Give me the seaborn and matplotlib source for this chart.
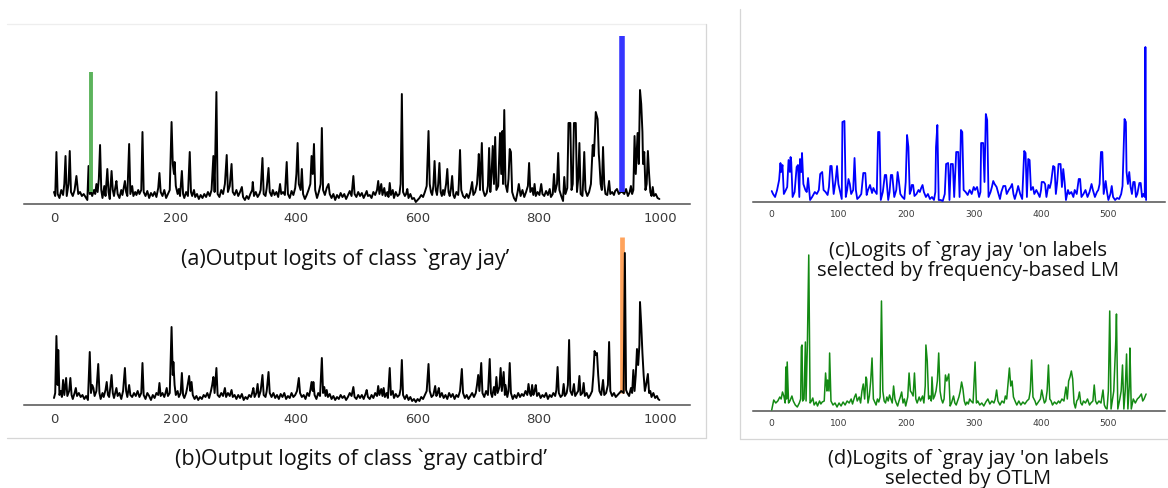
import matplotlib
matplotlib.use("Agg")
import matplotlib.pyplot as plt
from matplotlib.lines import Line2D
import seaborn as sns

# logit traces: (label index, logit height)
trace_a = [(0, 12), (2, 8), (4, 52), (6, 10), (9, 6), (12, 14), (15, 9), (17, 20), (19, 48), (21, 8),
           (24, 20), (26, 53), (28, 12), (31, 8), (34, 14), (37, 28), (40, 10), (43, 12), (46, 8), (49, 10),
           (52, 7), (55, 4), (57, 38), (59, 10), (61, 12), (63, 8), (66, 14), (68, 10), (70, 20), (72, 12),
           (74, 25), (76, 59), (78, 14), (80, 6), (83, 18), (85, 8), (88, 35), (90, 12), (92, 5), (95, 33),
           (97, 14), (99, 8), (101, 16), (103, 23), (105, 10), (108, 6), (111, 14), (113, 9), (115, 16), (117, 23),
           (119, 12), (121, 8), (124, 60), (126, 10), (129, 18), (131, 8), (134, 12), (136, 9), (139, 14), (141, 10),
           (144, 14), (146, 72), (148, 12), (151, 8), (154, 13), (157, 6), (160, 11), (163, 8), (166, 12), (169, 7),
           (172, 16), (174, 31), (176, 12), (179, 8), (182, 14), (185, 6), (188, 10), (191, 14), (194, 82), (196, 40),
           (198, 30), (199, 42), (201, 18), (204, 10), (206, 15), (208, 8), (211, 33), (213, 10), (215, 6), (218, 12),
           (221, 8), (224, 52), (226, 12), (228, 8), (231, 14), (233, 7), (236, 10), (239, 5), (242, 9), (245, 6),
           (248, 10), (251, 7), (254, 12), (257, 8), (260, 14), (263, 48), (265, 12), (268, 112), (270, 10), (273, 7),
           (276, 14), (279, 10), (282, 20), (285, 49), (287, 12), (290, 18), (293, 40), (295, 12), (298, 9), (301, 14),
           (304, 8), (307, 12), (310, 17), (312, 7), (315, 4), (318, 8), (321, 5), (324, 10), (327, 14), (328, 22),
           (330, 8), (333, 12), (336, 7), (339, 10), (341, 14), (344, 46), (346, 10), (349, 8), (351, 16), (354, 36),
           (356, 12), (359, 8), (361, 14), (364, 9), (367, 12), (370, 7), (373, 20), (375, 10), (378, 12), (381, 9),
           (384, 42), (386, 10), (389, 6), (392, 13), (395, 9), (398, 16), (400, 30), (402, 61), (404, 20), (407, 14),
           (409, 35), (411, 10), (414, 5), (417, 9), (420, 14), (423, 20), (425, 48), (427, 30), (429, 60), (431, 14),
           (434, 6), (437, 12), (440, 20), (442, 76), (444, 14), (447, 9), (450, 16), (453, 20), (455, 10), (458, 6),
           (461, 10), (464, 4), (467, 9), (470, 6), (473, 11), (476, 7), (479, 10), (482, 5), (485, 9), (488, 13),
           (491, 8), (494, 28), (496, 10), (499, 7), (502, 12), (505, 8), (508, 11), (511, 6), (514, 10), (516, 13),
           (518, 8), (521, 9), (524, 6), (527, 12), (530, 9), (533, 14), (535, 23), (537, 10), (540, 20), (542, 9),
           (545, 16), (547, 8), (550, 12), (552, 7), (554, 21), (556, 9), (559, 14), (561, 6), (564, 12), (567, 8),
           (570, 10), (572, 20), (574, 110), (576, 12), (579, 8), (581, 10), (583, 15), (585, 6), (588, 10), (591, 5),
           (594, 6), (597, 2), (600, 4), (603, 6), (606, 9), (609, 7), (612, 12), (615, 18), (618, 73), (620, 20),
           (622, 12), (624, 9), (626, 18), (628, 43), (630, 14), (632, 9), (634, 20), (636, 41), (638, 12), (640, 8),
           (642, 14), (644, 9), (647, 20), (649, 35), (651, 12), (653, 8), (655, 15), (657, 28), (659, 9), (661, 6),
           (664, 12), (667, 9), (668, 20), (670, 54), (672, 14), (675, 8), (678, 6), (681, 10), (684, 6), (687, 12),
           (690, 22), (692, 9), (695, 12), (698, 20), (700, 38), (701, 50), (703, 14), (706, 61), (708, 14), (711, 8),
           (714, 11), (716, 18), (718, 56), (720, 12), (722, 30), (724, 58), (726, 20), (728, 67), (730, 14), (733, 18),
           (736, 71), (738, 30), (740, 73), (741, 20), (743, 94), (745, 20), (748, 12), (750, 25), (752, 55), (754, 52),
           (756, 12), (759, 6), (762, 3), (765, 12), (767, 20), (770, 8), (773, 14), (776, 7), (779, 12), (782, 18),
           (784, 41), (786, 12), (789, 16), (791, 9), (793, 20), (795, 8), (798, 12), (801, 9), (804, 20), (806, 10),
           (809, 8), (812, 13), (815, 9), (818, 15), (820, 7), (823, 10), (825, 30), (827, 12), (830, 20), (832, 51),
           (834, 14), (837, 8), (840, 3), (842, 27), (844, 10), (847, 16), (849, 81), (852, 81), (854, 14), (856, 20),
           (858, 81), (861, 81), (863, 12), (865, 25), (867, 61), (869, 10), (872, 8), (873, 20), (875, 52), (877, 14),
           (880, 8), (883, 12), (886, 20), (889, 59), (891, 48), (894, 92), (897, 85), (899, 50), (900, 42), (902, 20),
           (904, 14), (906, 57), (908, 20), (910, 10), (913, 9), (916, 23), (918, 10), (921, 12), (924, 9), (926, 13),
           (929, 15), (932, 10), (935, 12), (938, 12), (941, 10), (944, 15), (947, 8), (950, 12), (952, 18), (954, 10),
           (956, 14), (958, 68), (960, 30), (963, 71), (965, 40), (967, 114), (969, 100), (971, 72), (972, 40), (974, 52),
           (976, 14), (978, 20), (980, 53), (982, 30), (984, 12), (986, 8), (988, 17), (990, 8), (993, 10), (996, 6),
           (999, 5)]

trace_b = [(0, 7), (2, 12), (4, 69), (6, 20), (7, 55), (9, 10), (11, 14), (13, 8), (15, 25), (17, 10),
           (20, 27), (22, 9), (25, 14), (27, 27), (29, 10), (31, 6), (34, 12), (36, 17), (38, 9), (41, 12),
           (44, 8), (47, 10), (50, 6), (53, 9), (56, 5), (59, 53), (61, 12), (63, 20), (65, 17), (67, 9),
           (70, 14), (73, 41), (75, 12), (77, 6), (80, 12), (82, 8), (85, 15), (87, 23), (89, 10), (91, 8),
           (93, 18), (95, 30), (97, 12), (99, 7), (101, 12), (103, 17), (105, 9), (108, 12), (111, 6), (114, 14),
           (117, 37), (119, 14), (121, 8), (124, 20), (126, 10), (129, 8), (132, 12), (135, 9), (138, 14), (141, 8),
           (144, 12), (146, 42), (148, 10), (151, 6), (154, 12), (157, 9), (160, 5), (163, 10), (166, 7), (169, 12),
           (172, 10), (174, 22), (176, 9), (179, 12), (182, 8), (184, 12), (186, 17), (188, 9), (191, 12), (194, 78),
           (196, 30), (197, 43), (199, 20), (201, 10), (204, 14), (206, 8), (209, 12), (211, 32), (213, 10), (215, 7),
           (218, 12), (220, 18), (223, 29), (225, 14), (227, 23), (229, 10), (232, 6), (235, 9), (238, 5), (241, 8),
           (244, 6), (247, 10), (250, 8), (253, 12), (256, 7), (259, 14), (261, 20), (263, 28), (265, 12), (268, 37),
           (270, 10), (273, 8), (276, 12), (279, 9), (282, 17), (284, 8), (287, 12), (290, 9), (293, 15), (295, 8),
           (298, 10), (301, 6), (304, 10), (307, 7), (310, 11), (313, 5), (316, 8), (319, 6), (322, 10), (325, 8),
           (327, 12), (329, 17), (331, 8), (334, 12), (336, 21), (338, 8), (341, 14), (344, 30), (346, 10), (349, 8),
           (351, 14), (354, 33), (356, 12), (359, 8), (362, 12), (365, 7), (368, 10), (371, 6), (374, 11), (377, 8),
           (380, 12), (383, 6), (386, 9), (389, 7), (392, 12), (395, 8), (398, 10), (401, 14), (404, 27), (406, 12),
           (409, 8), (412, 10), (415, 6), (418, 12), (421, 9), (423, 15), (425, 23), (427, 14), (428, 23), (430, 10),
           (433, 6), (436, 12), (439, 9), (442, 47), (444, 12), (446, 18), (448, 9), (450, 15), (452, 8), (455, 11),
           (458, 6), (461, 9), (464, 5), (467, 8), (470, 6), (473, 10), (476, 7), (479, 9), (482, 5), (485, 8),
           (488, 12), (491, 9), (494, 18), (496, 8), (499, 6), (502, 10), (505, 7), (508, 10), (511, 6), (514, 11),
           (516, 15), (518, 8), (521, 6), (524, 10), (527, 7), (530, 12), (533, 9), (535, 19), (537, 10), (540, 16),
           (542, 9), (544, 17), (546, 8), (549, 12), (551, 7), (554, 37), (556, 10), (559, 14), (561, 7), (564, 11),
           (567, 8), (570, 10), (572, 16), (574, 45), (576, 10), (579, 6), (582, 10), (585, 5), (588, 8), (591, 4),
           (594, 6), (597, 3), (600, 6), (603, 4), (606, 8), (609, 6), (612, 10), (615, 14), (618, 41), (620, 14),
           (623, 8), (626, 10), (629, 19), (631, 9), (633, 12), (635, 17), (637, 8), (640, 12), (643, 7), (646, 10),
           (649, 6), (652, 12), (655, 8), (658, 11), (661, 6), (664, 10), (667, 8), (670, 14), (673, 36), (675, 12),
           (678, 7), (681, 10), (684, 6), (687, 9), (690, 12), (693, 8), (696, 12), (698, 20), (700, 30), (702, 14),
           (705, 42), (707, 12), (710, 8), (713, 14), (716, 10), (719, 46), (721, 12), (723, 8), (726, 18), (728, 10),
           (730, 28), (732, 12), (735, 18), (737, 37), (739, 14), (742, 33), (744, 10), (745, 20), (748, 8), (750, 14),
           (752, 42), (754, 12), (757, 6), (760, 10), (763, 7), (766, 12), (769, 8), (772, 11), (775, 9), (778, 14),
           (781, 10), (783, 21), (785, 12), (787, 9), (789, 20), (791, 10), (793, 14), (795, 20), (797, 9), (800, 12),
           (803, 7), (806, 10), (809, 8), (812, 12), (815, 6), (818, 10), (821, 8), (824, 12), (827, 9), (829, 15),
           (831, 38), (833, 12), (836, 8), (839, 10), (841, 21), (843, 9), (846, 12), (848, 20), (850, 65), (852, 14),
           (855, 10), (858, 21), (860, 9), (863, 12), (865, 14), (867, 29), (869, 10), (872, 12), (874, 22), (876, 9),
           (879, 12), (882, 7), (885, 10), (888, 14), (890, 30), (892, 54), (894, 50), (896, 52), (898, 30), (900, 14),
           (903, 10), (906, 25), (908, 10), (911, 12), (914, 20), (916, 63), (918, 14), (921, 9), (924, 12), (927, 8),
           (930, 10), (933, 12), (936, 14), (940, 12), (942, 152), (944, 15), (946, 12), (949, 9), (952, 17), (954, 12),
           (956, 35), (958, 14), (960, 30), (962, 56), (964, 40), (966, 60), (967, 103), (969, 80), (971, 52), (973, 30),
           (975, 14), (977, 20), (980, 31), (982, 12), (984, 14), (986, 8), (989, 12), (992, 7), (995, 9), (997, 6),
           (999, 5)]

trace_c = [(0, 11), (2, 8), (5, 5), (8, 12), (11, 22), (13, 39), (14, 30), (16, 37), (18, 8), (21, 12),
           (23, 15), (25, 42), (27, 30), (28, 45), (29, 40), (31, 5), (34, 10), (37, 35), (39, 37), (41, 5),
           (42, 43), (44, 30), (45, 49), (47, 18), (50, 12), (52, 10), (54, 24), (56, 10), (57, 2), (60, 5),
           (64, 10), (67, 8), (70, 12), (72, 28), (75, 30), (77, 12), (80, 10), (83, 7), (85, 15), (87, 36),
           (89, 36), (92, 8), (95, 22), (97, 36), (99, 18), (101, 12), (104, 3), (105, 80), (108, 81), (110, 5),
           (112, 12), (114, 23), (116, 18), (118, 8), (121, 12), (123, 44), (125, 12), (127, 3), (130, 5), (133, 8),
           (136, 29), (139, 29), (141, 7), (143, 12), (146, 17), (149, 9), (151, 14), (153, 11), (156, 8), (158, 70),
           (160, 70), (162, 2), (165, 10), (168, 27), (170, 27), (173, 2), (175, 10), (177, 27), (179, 27), (182, 5),
           (185, 12), (187, 30), (189, 20), (191, 8), (194, 5), (197, 3), (199, 20), (201, 67), (203, 55), (205, 8),
           (207, 12), (208, 17), (210, 17), (212, 6), (215, 8), (218, 12), (220, 10), (222, 14), (224, 17), (226, 10),
           (229, 5), (232, 8), (235, 3), (238, 5), (241, 2), (243, 10), (244, 55), (246, 77), (248, 2), (251, 2),
           (254, 1), (257, 8), (259, 38), (262, 39), (264, 2), (266, 38), (269, 38), (271, 5), (274, 50), (277, 50),
           (279, 5), (281, 72), (283, 70), (285, 12), (288, 10), (291, 7), (294, 12), (297, 8), (300, 15), (302, 12),
           (305, 15), (308, 5), (310, 10), (311, 59), (314, 59), (316, 20), (318, 88), (320, 82), (322, 5), (325, 10),
           (327, 15), (329, 21), (331, 18), (334, 15), (336, 10), (339, 3), (341, 10), (344, 16), (347, 16), (349, 8),
           (352, 12), (355, 15), (357, 18), (359, 8), (361, 3), (364, 10), (366, 16), (369, 8), (372, 3), (375, 51),
           (377, 49), (379, 5), (381, 43), (383, 42), (385, 12), (388, 15), (390, 8), (393, 12), (396, 8), (398, 5),
           (400, 12), (401, 20), (404, 20), (406, 18), (408, 5), (411, 17), (413, 14), (415, 20), (418, 36), (420, 35),
           (422, 8), (424, 20), (426, 38), (429, 38), (431, 15), (433, 33), (435, 20), (437, 2), (440, 12), (442, 8),
           (445, 10), (448, 5), (450, 12), (453, 8), (456, 23), (458, 23), (460, 5), (463, 8), (466, 12), (469, 5),
           (472, 10), (475, 18), (477, 12), (480, 5), (483, 10), (485, 12), (487, 18), (489, 50), (491, 50), (493, 8),
           (496, 21), (498, 10), (500, 2), (503, 8), (505, 16), (507, 5), (510, 2), (513, 4), (516, 3), (519, 8),
           (521, 16), (523, 60), (524, 83), (526, 80), (527, 30), (529, 18), (531, 30), (533, 15), (535, 8), (537, 20),
           (539, 20), (541, 5), (543, 8), (546, 19), (548, 19), (550, 5), (552, 8), (554, 5), (555, 155), (556, 2)]

trace_d = [(0, 1), (3, 11), (6, 8), (9, 10), (12, 14), (14, 12), (16, 19), (18, 15), (20, 8), (21, 44),
           (22, 12), (23, 49), (25, 8), (27, 10), (30, 15), (32, 10), (35, 6), (38, 4), (41, 8), (43, 12),
           (44, 64), (45, 66), (46, 10), (48, 12), (50, 69), (51, 10), (53, 68), (55, 156), (57, 8), (59, 10),
           (61, 13), (63, 6), (66, 9), (68, 5), (71, 10), (73, 7), (75, 9), (78, 10), (80, 38), (82, 20),
           (83, 31), (85, 20), (86, 58), (88, 10), (91, 6), (94, 8), (97, 4), (100, 8), (103, 5), (106, 9),
           (109, 6), (112, 10), (115, 8), (118, 12), (120, 7), (123, 14), (125, 17), (127, 10), (130, 14), (132, 8),
           (134, 20), (136, 27), (138, 12), (140, 34), (141, 32), (143, 8), (145, 15), (147, 30), (149, 53), (151, 12),
           (153, 9), (155, 6), (157, 12), (159, 9), (161, 14), (163, 110), (165, 20), (167, 10), (169, 8), (171, 14),
           (173, 10), (175, 16), (177, 12), (179, 8), (181, 25), (183, 12), (185, 8), (187, 5), (189, 10), (191, 14),
           (193, 19), (195, 8), (197, 12), (199, 5), (202, 14), (204, 38), (206, 20), (208, 18), (210, 15), (212, 38),
           (214, 12), (216, 8), (219, 14), (221, 10), (224, 15), (226, 8), (228, 25), (229, 66), (231, 50), (233, 12),
           (235, 15), (237, 10), (238, 34), (240, 12), (242, 15), (244, 20), (246, 30), (248, 58), (250, 20), (252, 12),
           (254, 8), (256, 12), (258, 36), (260, 30), (263, 37), (265, 5), (267, 8), (270, 15), (272, 8), (274, 6),
           (276, 10), (278, 14), (280, 20), (282, 29), (284, 22), (286, 10), (288, 6), (290, 9), (292, 7), (294, 12),
           (296, 10), (299, 8), (302, 49), (304, 8), (306, 10), (309, 6), (312, 8), (315, 5), (318, 9), (321, 12),
           (324, 7), (327, 10), (330, 8), (332, 12), (334, 21), (336, 10), (339, 6), (342, 10), (345, 8), (347, 15),
           (349, 12), (351, 28), (353, 43), (355, 25), (357, 30), (359, 14), (362, 9), (364, 6), (367, 10), (370, 6),
           (373, 9), (376, 7), (379, 10), (382, 12), (384, 20), (386, 51), (388, 14), (391, 10), (393, 6), (396, 9),
           (399, 12), (401, 21), (403, 14), (405, 8), (407, 10), (409, 20), (411, 46), (413, 12), (415, 10), (417, 6),
           (420, 9), (423, 7), (426, 10), (428, 8), (431, 12), (434, 10), (437, 24), (439, 12), (441, 30), (443, 34),
           (445, 40), (447, 32), (449, 8), (451, 3), (453, 10), (455, 12), (457, 19), (459, 8), (461, 6), (463, 10),
           (466, 8), (469, 12), (472, 6), (474, 8), (477, 10), (479, 26), (481, 10), (483, 7), (486, 10), (489, 8),
           (492, 21), (494, 6), (496, 3), (498, 2), (500, 20), (502, 100), (504, 2), (507, 15), (508, 20), (510, 54),
           (511, 70), (512, 97), (514, 2), (517, 12), (519, 20), (521, 46), (523, 2), (525, 20), (527, 57), (529, 2),
           (531, 25), (532, 63), (534, 2), (537, 12), (540, 8), (543, 12), (546, 14), (549, 17), (551, 10), (553, 12),
           (556, 17)]

# highlighted labels: (index, low, high)
hl_gray_jay = (61, 12, 132)
hl_predicted_a = (938, 12, 168)
hl_predicted_b = (937, 12, 168)

ticks_left = [0, 200, 400, 600, 800, 1000]
ticks_right = [0, 100, 200, 300, 400, 500]

captions = {
    "a": "(a)Output logits of class `gray jay’",
    "b": "(b)Output logits of class `gray catbird’",
    "c": "(c)Logits of `gray jay 'on labels\nselected by frequency-based LM",
    "d": "(d)Logits of `gray jay 'on labels\nselected by OTLM",
}

sns.set_style("white")
plt.rcParams["font.family"] = ["DejaVu Sans"]

W, H = 1168, 488
fig = plt.figure(figsize=(W / 100, H / 100), dpi=100)


def box(x0, x1, y_spine, height):
    # pixel box (from top-left) -> figure fraction rect
    return [x0 / W, (H - y_spine) / H, (x1 - x0) / W, height / H]


def style(ax, ticks, size, xlim, ylim):
    ax.set_xlim(*xlim)
    ax.set_ylim(*ylim)
    ax.set_xticks(ticks)
    ax.set_yticks([])
    ax.set_xlabel("")
    ax.set_ylabel("")
    for s in ["top", "right", "left"]:
        ax.spines[s].set_visible(False)
    ax.spines["bottom"].set_color("#505050")
    ax.spines["bottom"].set_linewidth(1.1)
    ax.tick_params(axis="x", length=2.5, width=0.8, color="#505050",
                   labelsize=size, labelcolor="#3a3a3a", pad=3)
    ax.patch.set_alpha(0)


def draw(ax, trace, color, lw):
    xs, ys = zip(*trace)
    sns.lineplot(x=list(xs), y=list(ys), ax=ax, color=color, linewidth=lw,
                 estimator=None, sort=False, zorder=3)


ax_a = fig.add_axes(box(23.7, 689.7, 204, 180))
draw(ax_a, trace_a, "black", 1.4)
ax_a.vlines(hl_gray_jay[0], hl_gray_jay[1], hl_gray_jay[2], color="#5cb35c", lw=2.8, zorder=4)
ax_a.vlines(hl_predicted_a[0], hl_predicted_a[1], hl_predicted_a[2], color="#3535ff", lw=4.0, zorder=4)
style(ax_a, ticks_left, 9.5, (-50, 1049), (0, 180))

ax_b = fig.add_axes(box(23.7, 689.7, 405, 180))
ax_b.vlines(hl_predicted_b[0], hl_predicted_b[1], hl_predicted_b[2], color="#ffa35c", lw=3.4, zorder=2)
draw(ax_b, trace_b, "black", 1.4)
style(ax_b, ticks_left, 9.5, (-50, 1049), (0, 180))

ax_c = fig.add_axes(box(753.0, 1164.8, 202, 165))
draw(ax_c, trace_c, "#0000ff", 1.3)
style(ax_c, ticks_right, 6.6, (-27.8, 583.8), (0, 165))

ax_d = fig.add_axes(box(753.0, 1164.8, 411, 165))
draw(ax_d, trace_d, "#138a13", 1.1)
style(ax_d, ticks_right, 6.6, (-27.8, 583.8), (0, 165))

# captions
cap_font = ["Open Sans", "DejaVu Sans"]
fig.text(345 / W, (H - 265) / H, captions["a"], ha="center", va="baseline",
         fontsize=15.5, family=cap_font, color="#111111")
fig.text(361 / W, (H - 465) / H, captions["b"], ha="center", va="baseline",
         fontsize=15.5, family=cap_font, color="#111111")
fig.text(968 / W, (H - 276) / H, captions["c"], ha="center", va="baseline",
         fontsize=14.5, family=cap_font, color="#111111", linespacing=0.98, multialignment="center")
fig.text(968 / W, (H - 484) / H, captions["d"], ha="center", va="baseline",
         fontsize=14.5, family=cap_font, color="#111111", linespacing=0.98, multialignment="center")


# faint panel frames
def fline(x0, y0, x1, y1, color):
    fig.add_artist(Line2D([x0 / W, x1 / W], [(H - y0) / H, (H - y1) / H],
                          transform=fig.transFigure, color=color, lw=0.9))


fline(7, 24, 705.5, 24, "#eeeeee")
fline(705.5, 24, 705.5, 438, "#d6d6d6")
fline(7, 438, 705.5, 438, "#d6d6d6")
fline(739.5, 9, 739.5, 439, "#d6d6d6")
fline(739.5, 439, 1168, 439, "#d6d6d6")

fig.savefig("out.png", dpi=100, facecolor="white")
